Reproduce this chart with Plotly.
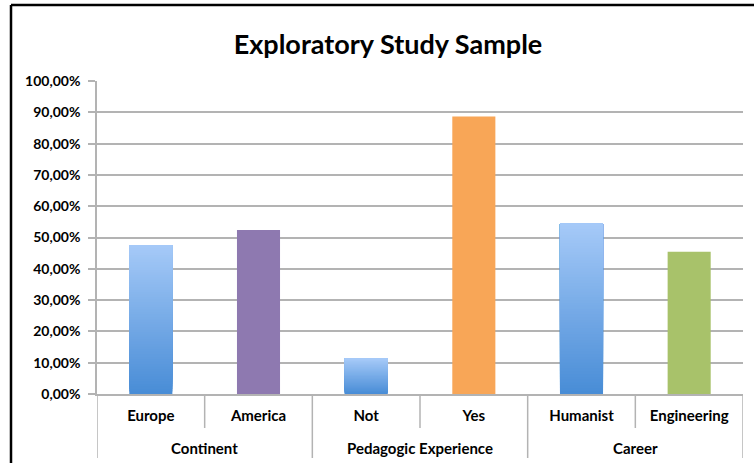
import plotly.graph_objects as go

# Sample composition by characteristic
groups = ["Continent", "Continent", "Pedagogic Experience", "Pedagogic Experience", "Career", "Career"]
categories = ["Europe", "America", "Not", "Yes", "Humanist", "Engineering"]
shares = [0.4762, 0.5238, 0.1136, 0.8864, 0.5455, 0.4545]
group_names = ["Continent", "Pedagogic Experience", "Career"]

# Fill style per bar: gradient (light top -> darker bottom) or flat colour
bar_fill = ["gradient", "#8E79B0", "gradient", "#F8A657", "gradient", "#A8C26A"]
grad_top = (166, 202, 248)
grad_bottom = (72, 140, 214)

W, H = 754, 463
ML, MR, MT, MB = 97, 11, 81, 69
FONT = "Lato, Calibri, Carlito, sans-serif"
GRID = "#B3B3B3"

fig = go.Figure()

n_steps = 60
for cat, val, fill in zip(categories, shares, bar_fill):
    if fill == "gradient":
        # nested bars: each band starts higher and runs to the bar top,
        # so the stack has no seams
        step = val / n_steps
        bases, heights, cols = [], [], []
        for i in range(n_steps):
            t = (i + 0.5) / n_steps
            c = [round(b + (a - b) * t) for a, b in zip(grad_top, grad_bottom)]
            cols.append("rgb(%d,%d,%d)" % tuple(c))
            bases.append(i * step)
            heights.append(val - i * step)
        fig.add_trace(go.Bar(
            x=[cat] * n_steps, y=heights, base=bases,
            marker=dict(color=cols, line=dict(width=0)),
            width=0.4, showlegend=False, hoverinfo="skip",
        ))
    else:
        fig.add_trace(go.Bar(
            x=[cat], y=[val],
            marker=dict(color=fill, line=dict(width=0)),
            width=0.4, showlegend=False,
        ))

plot_h = H - MT - MB
plot_w = W - ML - MR

def py(px):
    # pixel offset below the x axis -> paper y
    return -px / plot_h

shapes = []
# short dividers between categories within a group
for b in [0.5, 2.5, 4.5]:
    shapes.append(dict(type="line", xref="x", yref="paper", x0=b, x1=b,
                       y0=0, y1=py(34), line=dict(color=GRID, width=1.5)))
# long dividers between groups
for b in [-0.5, 1.5, 3.5, 5.5]:
    shapes.append(dict(type="line", xref="x", yref="paper", x0=b, x1=b,
                       y0=0, y1=py(64), line=dict(color=GRID, width=1.5)))

# chart frame (left and top edges)
fx0 = (11 - ML) / plot_w
fy_top = 1 + (MT - 5) / plot_h
shapes.append(dict(type="line", xref="paper", yref="paper", x0=fx0, x1=fx0,
                   y0=fy_top, y1=py(80), line=dict(color="black", width=2.5)))
shapes.append(dict(type="line", xref="paper", yref="paper", x0=fx0, x1=1.2,
                   y0=fy_top, y1=fy_top, line=dict(color="black", width=2.5)))

annotations = []
for i, g in enumerate(group_names):
    annotations.append(dict(x=2 * i + 0.5, xref="x", y=py(54), yref="paper",
                            text=g, showarrow=False, yanchor="middle",
                            font=dict(family=FONT, size=15, color="black", weight="bold")))

fig.update_layout(
    width=W, height=H,
    margin=dict(l=ML, r=MR, t=MT, b=MB),
    paper_bgcolor="white", plot_bgcolor="white",
    barmode="overlay", separators=",.",
    title=dict(text="<b>Exploratory Study Sample</b>", xref="container", yref="container",
               x=388 / W, y=1 - 45 / H, xanchor="center", yanchor="middle",
               font=dict(family=FONT, size=27, color="black")),
    xaxis=dict(type="category", categoryorder="array", categoryarray=categories,
               range=[-0.5, 5.5], showline=True, linecolor=GRID, linewidth=1.5,
               ticks="", showgrid=False, ticklabelstandoff=7,
               tickfont=dict(family=FONT, size=15, color="black", weight="bold")),
    yaxis=dict(range=[0, 1], dtick=0.1, tickformat=".2%", showgrid=True,
               gridcolor=GRID, gridwidth=1.5, showline=True, linecolor=GRID,
               linewidth=1.5, ticks="outside", ticklen=7, tickcolor=GRID,
               tickwidth=1.5, zeroline=False, ticklabelstandoff=5,
               tickfont=dict(family=FONT, size=14, color="black", weight="bold")),
    shapes=shapes, annotations=annotations,
)

fig.write_html("out.html")
